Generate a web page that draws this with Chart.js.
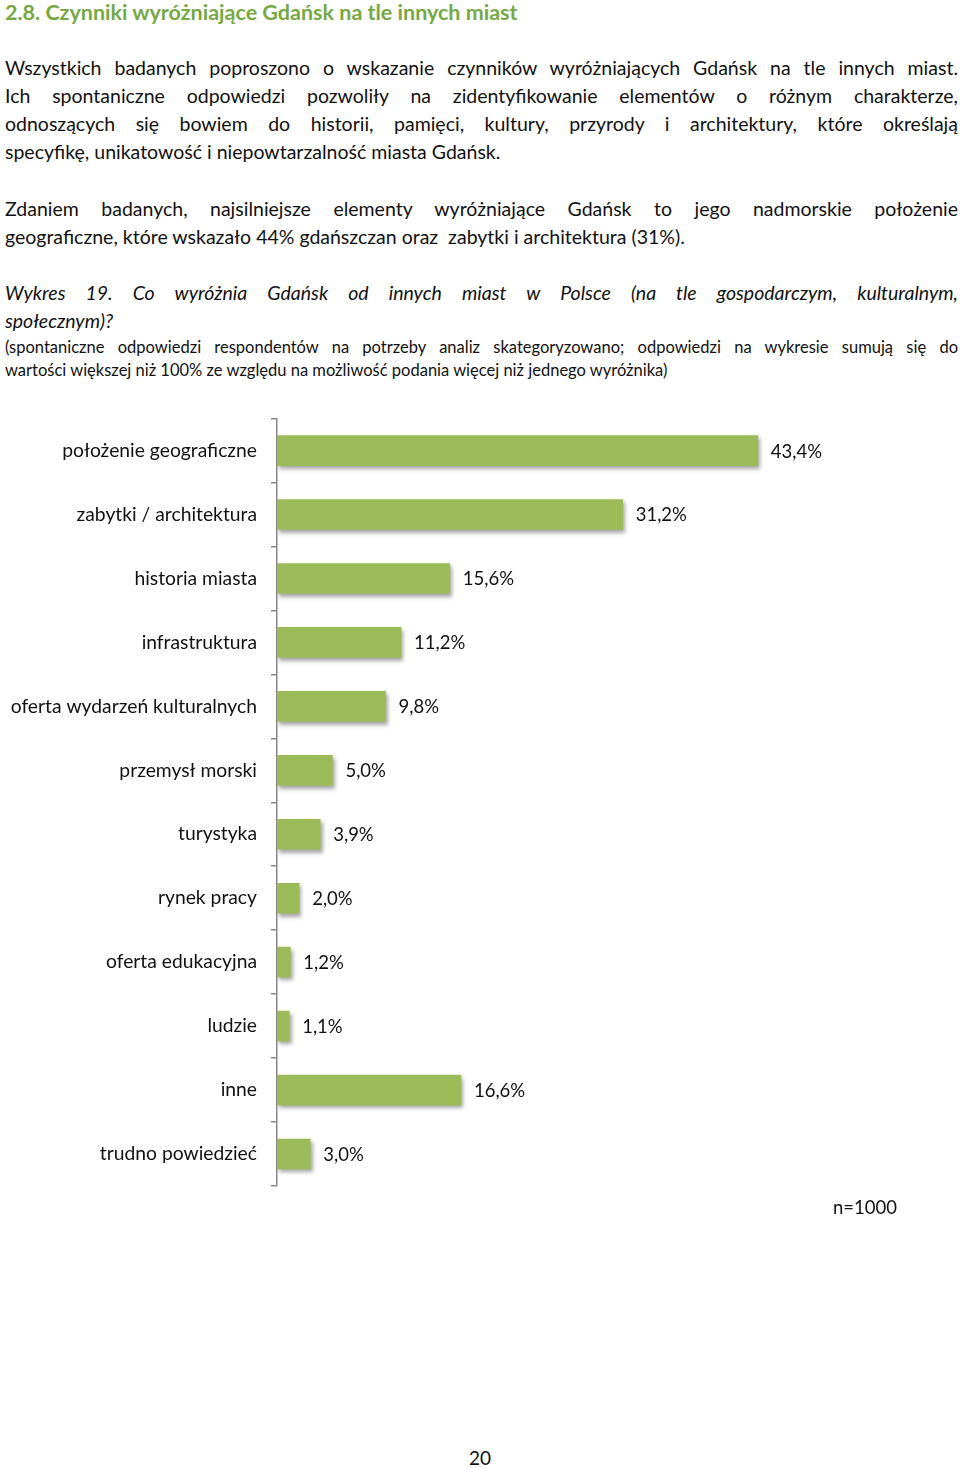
<!DOCTYPE html>
<html>
<head>
<meta charset="utf-8">
<script src="https://cdn.jsdelivr.net/npm/chart.js@4.4.0/dist/chart.umd.min.js"></script>
<style>
  html, body { margin: 0; padding: 0; background: #fff; }
  body { width: 960px; height: 1468px; position: relative; overflow: hidden; font-family: Lato, "Open Sans", sans-serif; color: #111; }
  .t { position: absolute; left: 5px; width: 953px; white-space: nowrap; }
  .j { text-align: justify; text-align-last: justify; white-space: normal; }
  .title { top: 0; font-size: 21.5px; line-height: 24px; font-weight: bold; color: #76a844; }
  .body { font-size: 19.5px; line-height: 28px; }
  .it { font-style: italic; }
  .small { font-size: 16.5px; line-height: 23px; }
  #wrap { position: absolute; left: 0; top: 393px; width: 960px; height: 820px; }
  .n { position: absolute; left: 833px; top: 1195px; font-size: 18.5px; line-height: 24px; }
  .page { position: absolute; left: 469px; top: 1446px; font-size: 19px; line-height: 24px; }
</style>
</head>
<body>
<div class="t title">2.8. Czynniki wyróżniające Gdańsk na tle innych miast</div>

<div class="t body j" style="top:54px">Wszystkich badanych poproszono o wskazanie czynników wyróżniających Gdańsk na tle innych miast.</div>
<div class="t body j" style="top:82px">Ich spontaniczne odpowiedzi pozwoliły na zidentyfikowanie elementów o różnym charakterze,</div>
<div class="t body j" style="top:110px">odnoszących się bowiem do historii, pamięci, kultury, przyrody i architektury, które określają</div>
<div class="t body" style="top:138px">specyfikę, unikatowość i niepowtarzalność miasta Gdańsk.</div>

<div class="t body j" style="top:195px">Zdaniem badanych, najsilniejsze elementy wyróżniające Gdańsk to jego nadmorskie położenie</div>
<div class="t body" style="top:223px">geograficzne, które wskazało 44% gdańszczan oraz &nbsp;zabytki i architektura (31%).</div>

<div class="t body it j" style="top:279px">Wykres 19. Co wyróżnia Gdańsk od innych miast w Polsce (na tle gospodarczym, kulturalnym,</div>
<div class="t body it" style="top:307px">społecznym)?</div>
<div class="t small j" style="top:336px">(spontaniczne odpowiedzi respondentów na potrzeby analiz skategoryzowano; odpowiedzi na wykresie sumują się do</div>
<div class="t small" style="top:359px">wartości większej niż 100% ze względu na możliwość podania więcej niż jednego wyróżnika)</div>

<div id="wrap"><canvas id="c" width="960" height="820"></canvas></div>
<div class="n">n=1000</div>
<div class="page">20</div>

<script>
const categories = ["położenie geograficzne", "zabytki / architektura", "historia miasta", "infrastruktura", "oferta wydarzeń kulturalnych", "przemysł morski", "turystyka", "rynek pracy", "oferta edukacyjna", "ludzie", "inne", "trudno powiedzieć"];
const values = [43.4, 31.2, 15.6, 11.2, 9.8, 5.0, 3.9, 2.0, 1.2, 1.1, 16.6, 3.0];
const valueLabels = ["43,4%", "31,2%", "15,6%", "11,2%", "9,8%", "5,0%", "3,9%", "2,0%", "1,2%", "1,1%", "16,6%", "3,0%"];

const shadowPlugin = {
  id: 'shadow',
  beforeDatasetsDraw(chart) {
    const ctx = chart.ctx;
    ctx.save();
    ctx.shadowColor = 'rgba(0,0,0,0.35)';
    ctx.shadowOffsetX = 2;
    ctx.shadowOffsetY = 3;
    ctx.shadowBlur = 4;
  },
  afterDatasetsDraw(chart) {
    chart.ctx.restore();
    const ctx = chart.ctx;
    const meta = chart.getDatasetMeta(0);
    ctx.save();
    ctx.font = '18.5px Lato, "Open Sans", sans-serif';
    ctx.fillStyle = '#111';
    ctx.textAlign = 'left';
    ctx.textBaseline = 'middle';
    meta.data.forEach((bar, i) => {
      ctx.fillText(valueLabels[i], bar.x + 13, bar.y + 1);
    });
    ctx.restore();
  }
};

new Chart(document.getElementById('c'), {
  type: 'bar',
  data: {
    labels: categories,
    datasets: [{
      data: values,
      backgroundColor: '#9bbb59',
      borderWidth: 0,
      barThickness: 30
    }]
  },
  options: {
    indexAxis: 'y',
    responsive: false,
    animation: false,
    layout: { padding: { left: 0, right: 129, top: 11, bottom: 27 } },
    plugins: { legend: { display: false }, tooltip: { enabled: false } },
    scales: {
      x: { display: false, min: 0, max: 50 },
      y: {
        afterFit(scale) { scale.width = 277; },
        border: { display: true, color: '#8a8a8a', width: 1.5 },
        grid: { offset: true, drawOnChartArea: false, drawTicks: true, tickLength: 6, color: '#8a8a8a', lineWidth: 1.5 },
        ticks: { color: '#111', padding: 14, font: { family: 'Lato, "Open Sans", sans-serif', size: 19.3 } }
      }
    }
  },
  plugins: [shadowPlugin]
});
</script>
</body>
</html>
